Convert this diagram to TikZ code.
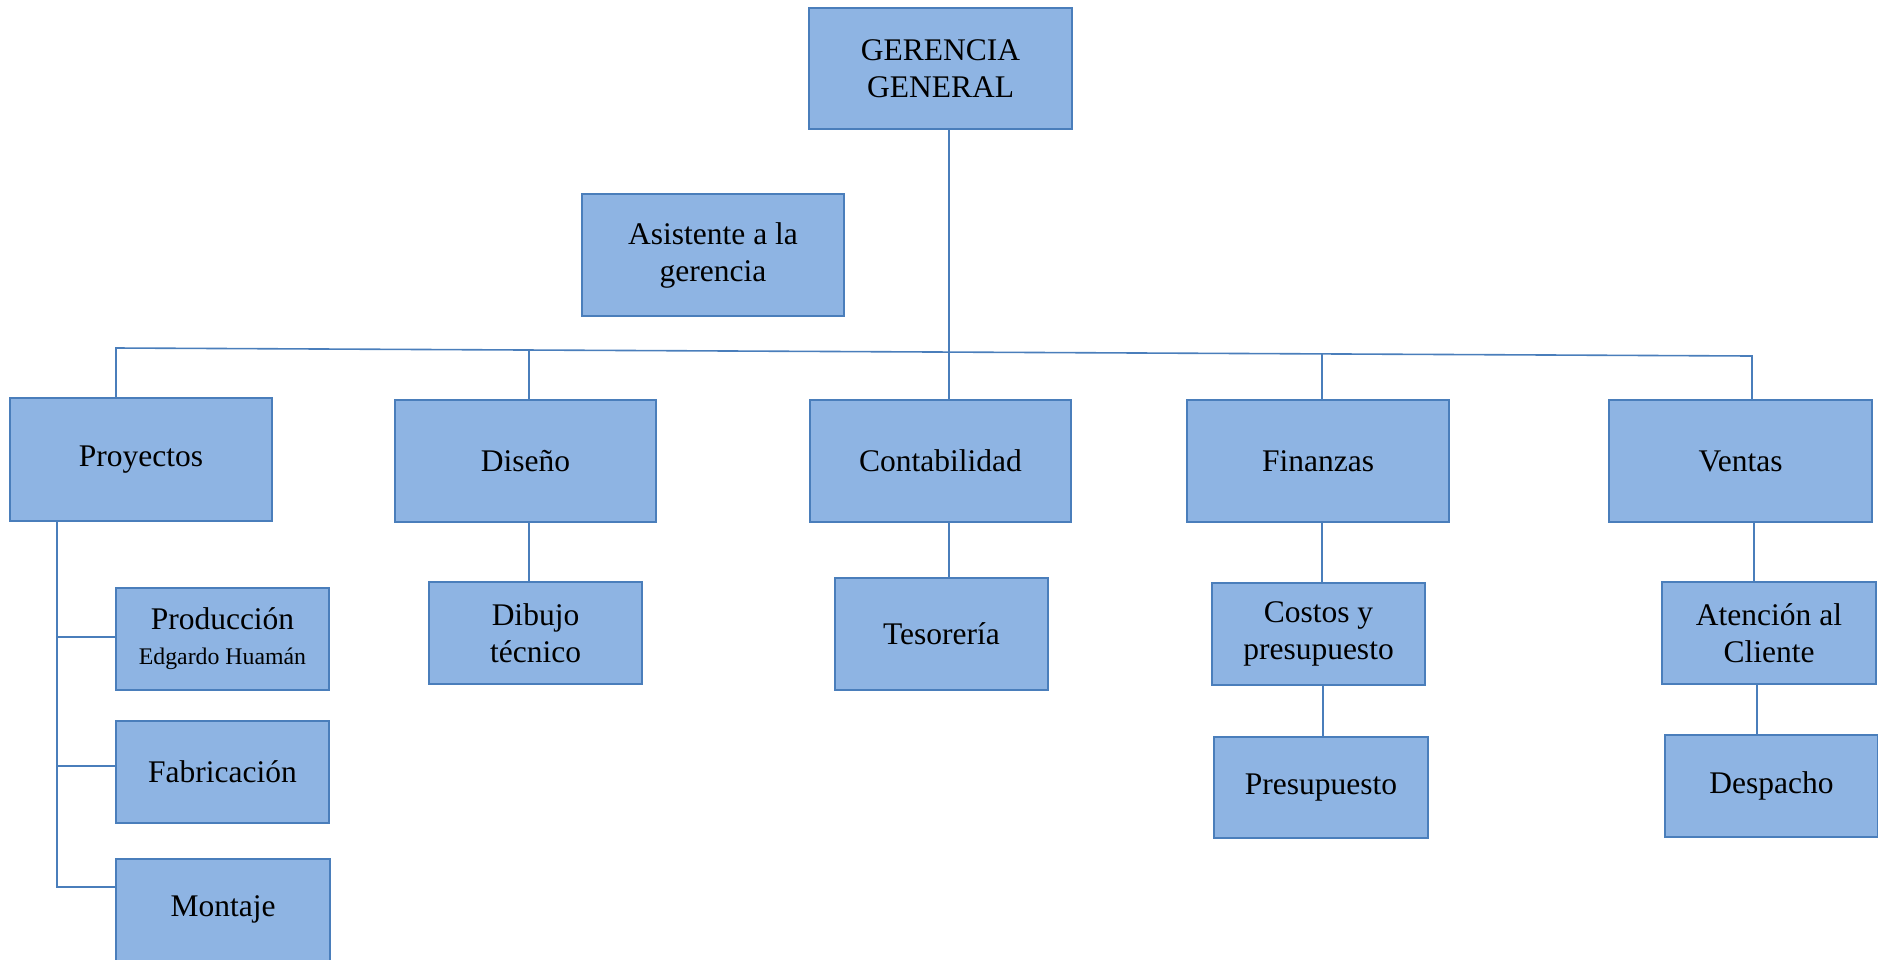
\documentclass[tikz,border=0pt]{standalone}
\usepackage{fontspec}
\setmainfont{Liberation Serif}
\definecolor{boxfill}{HTML}{8EB4E3}
\definecolor{boxline}{HTML}{4A7EBB}
\tikzset{
  box/.style={draw=boxline, line width=1.6pt, fill=boxfill, align=center,
    inner sep=0pt, font=\fontsize{31.5}{37}\selectfont, text=black},
  big/.style={box, minimum width=262pt, minimum height=122pt},
  small/.style={box, minimum width=213pt, minimum height=102pt},
  link/.style={draw=boxline, line width=1.6pt}
}
\begin{document}
\begin{tikzpicture}[x=1pt, y=-1pt]
\useasboundingbox (0,0) rectangle (1878,959);
\clip (0,0) rectangle (1878,959);

% top management
\node[big, minimum width=263pt, minimum height=121pt] (ger) at (940.5,68.5) {GERENCIA\\GENERAL};
\node[big] (asis) at (713,255) {Asistente a la\\gerencia};

% departments
\node[big, minimum height=123pt] (proy) at (141,459.5) {Proyectos};
\node[big, minimum width=261pt] (dis) at (525.5,461) {Diseño};
\node[big, minimum width=261pt] (cont) at (940.5,461) {Contabilidad};
\node[big] (fin) at (1318,461) {Finanzas};
\node[big, minimum width=263pt] (ven) at (1740.5,461) {Ventas};

% sections
\node[small] (prod) at (222.5,639) {Producción\\[-2pt]{\fontsize{23.8}{28}\selectfont Edgardo Huamán}};
\node[small] (fab) at (222.5,772) {Fabricación};
% the last box runs past the lower edge of the page
\node[small, minimum width=214pt, minimum height=130pt, anchor=north] (mon) at (223,858)
  {\raisebox{14pt}[\height][\depth]{Montaje}};
\node[small] (dib) at (535.5,633) {Dibujo\\técnico};
\node[small, minimum height=112pt] (tes) at (941.5,634) {Tesorería};
\node[small] (cos) at (1318.5,634) {Costos y\\presupuesto};
\node[small, minimum width=214pt, minimum height=101pt] (pre) at (1321,787.5) {Presupuesto};
\node[small, minimum width=214pt] (ate) at (1769,633) {Atención al\\Cliente};
\node[small] (des) at (1771.5,786) {Despacho};

% main bus
\coordinate (busL) at (116,348);
\coordinate (busR) at (1752,356);
\coordinate (bD) at (529,350);
\coordinate (bF) at (1322,354);
\draw[link] (proy.north -| busL) -- (busL) -- (busR) -- (ven.north -| busR);
\draw[link] (bD) -- (dis.north -| bD);
\draw[link] (bF) -- (fin.north -| bF);
\coordinate (gx) at (949,0);
\draw[link] (ger.south -| gx) -- (cont.north -| gx);

% Proyectos branch
\coordinate (sp1) at (57,637);
\coordinate (sp2) at (57,766);
\coordinate (sp3) at (57,887);
\draw[link] (proy.south -| sp3) -- (sp3) -- (sp3 -| mon.west);
\draw[link] (sp1) -- (sp1 -| prod.west);
\draw[link] (sp2) -- (sp2 -| fab.west);

% other branches
\coordinate (xd) at (529,0);
\draw[link] (dis.south -| xd) -- (dib.north -| xd);
\draw[link] (cont.south -| gx) -- (tes.north -| gx);
\coordinate (xc) at (1322,0);
\coordinate (xp) at (1323,0);
\coordinate (xa) at (1754,0);
\coordinate (xe) at (1757,0);
\draw[link] (fin.south -| xc) -- (cos.north -| xc);
\draw[link] (cos.south -| xp) -- (pre.north -| xp);
\draw[link] (ven.south -| xa) -- (ate.north -| xa);
\draw[link] (ate.south -| xe) -- (des.north -| xe);
\end{tikzpicture}
\end{document}
